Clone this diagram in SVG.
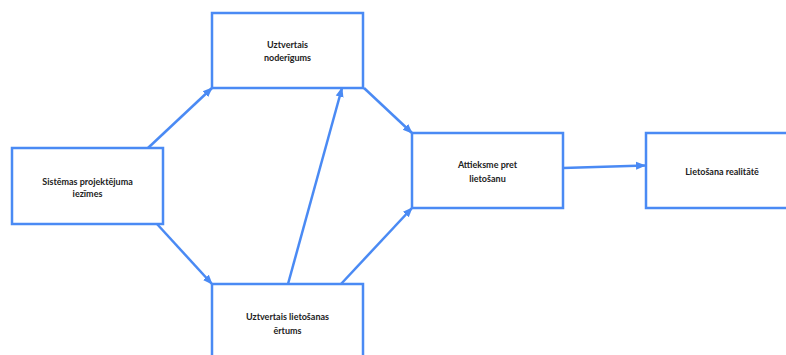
<svg xmlns="http://www.w3.org/2000/svg" width="786" height="355" viewBox="0 0 786 355">
<style>
.box{fill:#fff;stroke:#4a8af4;stroke-width:2.5}
.lbl{font-family:Lato,"Noto Sans",sans-serif;font-weight:700;font-size:9px;fill:#222;text-anchor:middle}
.edge{stroke:#4a8af4;stroke-width:2.5;fill:none;marker-end:url(#arr)}
</style>
<defs>
<marker id="arr" markerUnits="userSpaceOnUse" markerWidth="10" markerHeight="10" viewBox="0 0 10 10" refX="9" refY="5" orient="auto">
<path d="M0,1 L10,5 L0,9 Z" fill="#4a8af4"/>
</marker>
</defs>
<rect width="786" height="355" fill="#fff"/>
<g id="connectors">
<line class="edge" x1="148" y1="148" x2="212" y2="88"/>
<line class="edge" x1="157" y1="224" x2="212" y2="284"/>
<line class="edge" x1="288" y1="284" x2="342" y2="88"/>
<line class="edge" x1="341" y1="284" x2="412" y2="208"/>
<line class="edge" x1="364" y1="88" x2="412" y2="133"/>
<line class="edge" x1="563" y1="168" x2="645" y2="165.5"/>
</g>
<g id="n-sistemas">
<rect class="box" x="12" y="148" width="151" height="76"/>
<text class="lbl" x="87.5" y="185">Sistēmas projektējuma</text>
<text class="lbl" x="87.5" y="197">iezīmes</text>
</g>
<g id="n-noderigums">
<rect class="box" x="212" y="13" width="151" height="75"/>
<text class="lbl" x="287.5" y="48">Uztvertais</text>
<text class="lbl" x="287.5" y="61">noderīgums</text>
</g>
<g id="n-ertums">
<rect class="box" x="212" y="284" width="151" height="80"/>
<text class="lbl" x="287.5" y="320">Uztvertais lietošanas</text>
<text class="lbl" x="287.5" y="334">ērtums</text>
</g>
<g id="n-attieksme">
<rect class="box" x="412" y="133" width="151" height="75"/>
<text class="lbl" x="487.5" y="168">Attieksme pret</text>
<text class="lbl" x="487.5" y="182">lietošanu</text>
</g>
<g id="n-realitate">
<rect class="box" x="646" y="133" width="151" height="75"/>
<text class="lbl" x="722" y="175">Lietošana realitātē</text>
</g>
</svg>
